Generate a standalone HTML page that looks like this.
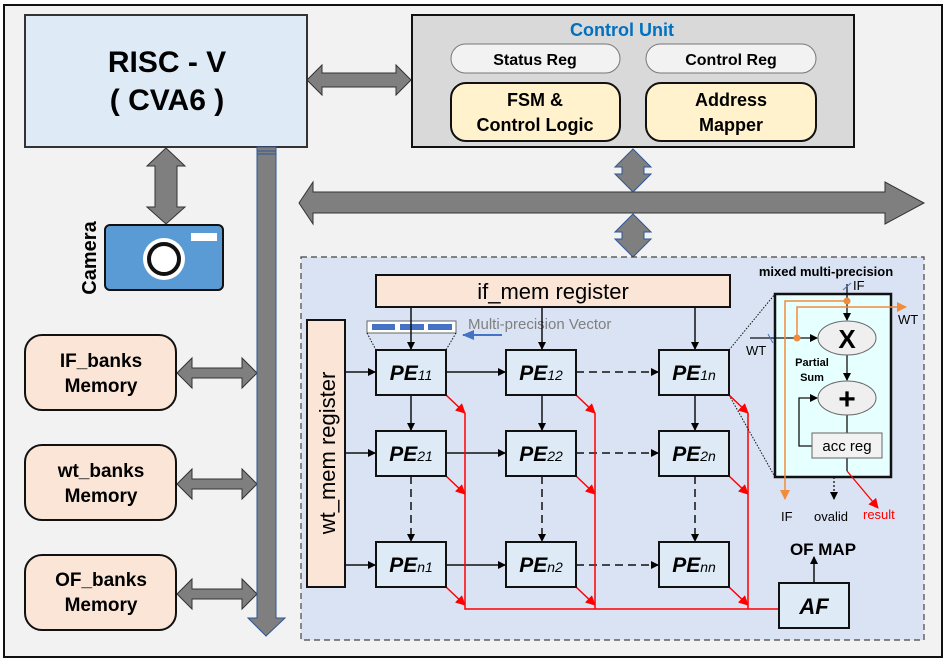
<!DOCTYPE html>
<html><head><meta charset="utf-8"><style>body{margin:0;background:#fff}svg{display:block;font-family:"Liberation Sans",Arial,sans-serif}</style></head><body>
<svg width="947" height="662" viewBox="0 0 947 662" xmlns="http://www.w3.org/2000/svg">
<defs>
<marker id="ab" markerWidth="8" markerHeight="8" refX="7" refY="4" orient="auto" markerUnits="userSpaceOnUse"><path d="M0,0 L8,4 L0,8 z" fill="#000"/></marker>
<marker id="ar" markerWidth="10" markerHeight="10" refX="9" refY="5" orient="auto" markerUnits="userSpaceOnUse"><path d="M0,0 L10,5 L0,10 z" fill="#f00"/></marker>
<marker id="ao" markerWidth="10" markerHeight="10" refX="9" refY="5" orient="auto" markerUnits="userSpaceOnUse"><path d="M0,0 L10,5 L0,10 z" fill="#f08c3c"/></marker>
<marker id="abl" markerWidth="12" markerHeight="10" refX="11" refY="5" orient="auto" markerUnits="userSpaceOnUse"><path d="M0,0 L12,5 L0,10 z" fill="#4472c4"/></marker>
</defs>
<rect x="4" y="5" width="938" height="652" fill="#f2f2f2" stroke="#111" stroke-width="2"/>
<rect x="25" y="15" width="282" height="132" fill="#deebf7" stroke="#333" stroke-width="2"/>
<text x="167" y="72" font-size="30" font-weight="bold" text-anchor="middle">RISC - V</text>
<text x="167" y="110" font-size="30" font-weight="bold" text-anchor="middle">( CVA6 )</text>
<rect x="412" y="15" width="442" height="132" fill="#d9d9d9" stroke="#111" stroke-width="2"/>
<text x="622" y="36" font-size="18" font-weight="bold" fill="#0070c0" text-anchor="middle">Control Unit</text>
<rect x="451" y="44" width="169" height="29" rx="14.5" fill="#f2f2f2" stroke="#777"/>
<text x="535" y="65" font-size="16" font-weight="bold" text-anchor="middle">Status Reg</text>
<rect x="646" y="44" width="170" height="29" rx="14.5" fill="#f2f2f2" stroke="#777"/>
<text x="731" y="65" font-size="16" font-weight="bold" text-anchor="middle">Control Reg</text>
<rect x="451" y="83" width="169" height="58" rx="15" fill="#fff2cc" stroke="#111" stroke-width="2"/>
<text x="535" y="106" font-size="18" font-weight="bold" text-anchor="middle">FSM &amp;</text>
<text x="535" y="131" font-size="18" font-weight="bold" text-anchor="middle">Control Logic</text>
<rect x="646" y="83" width="170" height="58" rx="15" fill="#fff2cc" stroke="#111" stroke-width="2"/>
<text x="731" y="106" font-size="18" font-weight="bold" text-anchor="middle">Address</text>
<text x="731" y="131" font-size="18" font-weight="bold" text-anchor="middle">Mapper</text>
<g fill="#7f7f7f" stroke="#333" stroke-width="1">
<path d="M307,80 L322,65 L322,73 L396,73 L396,65 L411,80 L396,95 L396,87 L322,87 L322,95 z"/>
<path d="M299,203 L313,182 L313,192 L885,192 L885,182 L924,203 L885,224 L885,213 L313,213 L313,224 z"/>
<path d="M166,148 L185,166 L177,166 L177,207 L185,207 L166,224 L147,207 L155,207 L155,166 L147,166 z"/>
<path d="M177,373 L192,358 L192,368 L242,368 L242,358 L257,373 L242,388 L242,378 L192,378 L192,388 z"/>
<path d="M177,484 L192,469 L192,479 L242,479 L242,469 L257,484 L242,499 L242,489 L192,489 L192,499 z"/>
<path d="M177,594 L192,579 L192,589 L242,589 L242,579 L257,594 L242,609 L242,599 L192,599 L192,609 z"/>
</g>
<g fill="#7f7f7f" stroke="#2f5597" stroke-width="1">
<path d="M633,149 L651,167 L644,167 L644,174 L651,174 L633,192 L615,174 L622,174 L622,167 L615,167 z"/>
<path d="M633,214 L651,232 L644,232 L644,239 L651,239 L633,257 L615,239 L622,239 L622,232 L615,232 z"/>
<path d="M257,147 L276,147 L276,618 L285,618 L266,636 L248,618 L257,618 z"/>
</g>
<line x1="257" y1="151" x2="276" y2="151" stroke="#2f5597"/><line x1="257" y1="154" x2="276" y2="154" stroke="#2f5597"/>
<rect x="105" y="225" width="118" height="65" rx="5" fill="#5b9bd5" stroke="#111" stroke-width="2"/>
<rect x="191" y="233" width="26" height="8" fill="#fff"/>
<circle cx="164" cy="259" r="21" fill="#fff"/>
<circle cx="164" cy="259" r="15" fill="#fff" stroke="#111" stroke-width="4"/>
<text transform="translate(96,258) rotate(-90)" font-size="20" font-weight="bold" text-anchor="middle">Camera</text>
<g fill="#fbe5d6" stroke="#111" stroke-width="2">
<rect x="25" y="335" width="151" height="75" rx="17"/>
<rect x="25" y="445" width="151" height="75" rx="17"/>
<rect x="25" y="555" width="151" height="75" rx="17"/>
</g>
<g font-size="19" font-weight="bold" text-anchor="middle">
<text x="101" y="367">IF_banks</text><text x="101" y="392">Memory</text>
<text x="101" y="477">wt_banks</text><text x="101" y="502">Memory</text>
<text x="101" y="586">OF_banks</text><text x="101" y="611">Memory</text>
</g>
<rect x="301" y="257" width="623" height="383" fill="#dae3f3" stroke="#444" stroke-width="1.2" stroke-dasharray="6,4"/>
<rect x="376" y="275" width="354" height="32" fill="#fbe5d6" stroke="#111" stroke-width="2"/>
<text x="553" y="299" font-size="22" text-anchor="middle">if_mem register</text>
<rect x="307" y="320" width="38" height="267" fill="#fbe5d6" stroke="#111" stroke-width="2"/>
<text transform="translate(335,453) rotate(-90)" font-size="22" text-anchor="middle">wt_mem register</text>
<rect x="367" y="321" width="89" height="12" fill="#fff" stroke="#666"/>
<rect x="372" y="324" width="23" height="6" fill="#4472c4"/><rect x="400" y="324" width="24" height="6" fill="#4472c4"/><rect x="428" y="324" width="24" height="6" fill="#4472c4"/>
<line x1="367" y1="333" x2="376" y2="350" stroke="#111" stroke-dasharray="1.5,1.5"/>
<line x1="456" y1="333" x2="446" y2="350" stroke="#111" stroke-dasharray="1.5,1.5"/>
<line x1="502" y1="335" x2="463" y2="335" stroke="#4472c4" stroke-width="2" marker-end="url(#abl)"/>
<text x="468" y="329" font-size="15" fill="#7f7f7f">Multi-precision Vector</text>
<g stroke="#111" stroke-width="1.5" fill="none" marker-end="url(#ab)">
<line x1="411" y1="307" x2="411" y2="349"/><line x1="542" y1="307" x2="542" y2="349"/><line x1="695" y1="307" x2="695" y2="349"/>
<line x1="345" y1="372" x2="375" y2="372"/><line x1="345" y1="453" x2="375" y2="453"/><line x1="345" y1="565" x2="375" y2="565"/>
<line x1="446" y1="372" x2="505" y2="372"/><line x1="446" y1="453" x2="505" y2="453"/><line x1="446" y1="565" x2="505" y2="565"/>
<line x1="411" y1="395" x2="411" y2="430"/><line x1="542" y1="395" x2="542" y2="430"/><line x1="695" y1="395" x2="695" y2="430"/>
</g>
<g stroke="#111" stroke-width="1.5" fill="none" stroke-dasharray="8,5" marker-end="url(#ab)">
<line x1="576" y1="372" x2="658" y2="372"/><line x1="576" y1="453" x2="658" y2="453"/><line x1="576" y1="565" x2="658" y2="565"/>
<line x1="411" y1="476" x2="411" y2="541"/><line x1="542" y1="476" x2="542" y2="541"/><line x1="695" y1="476" x2="695" y2="541"/>
</g>
<g stroke="#f00" stroke-width="1.5" fill="none">
<polyline points="465,413 465,609 779,609"/><line x1="595" y1="413" x2="595" y2="609"/><line x1="748" y1="413" x2="748" y2="609"/>
</g>
<g stroke="#f00" stroke-width="1.5" marker-end="url(#ar)">
<line x1="446" y1="395" x2="465" y2="413"/><line x1="446" y1="476" x2="465" y2="494"/><line x1="446" y1="587" x2="465" y2="605"/>
<line x1="576" y1="395" x2="595" y2="413"/><line x1="576" y1="476" x2="595" y2="494"/><line x1="576" y1="587" x2="595" y2="605"/>
<line x1="729" y1="395" x2="748" y2="413"/><line x1="729" y1="476" x2="748" y2="494"/><line x1="729" y1="587" x2="748" y2="605"/>
</g>
<g fill="#deebf7" stroke="#111" stroke-width="2">
<rect x="376" y="350" width="70" height="45"/><rect x="506" y="350" width="70" height="45"/><rect x="659" y="350" width="70" height="45"/>
<rect x="376" y="431" width="70" height="45"/><rect x="506" y="431" width="70" height="45"/><rect x="659" y="431" width="70" height="45"/>
<rect x="376" y="542" width="70" height="45"/><rect x="506" y="542" width="70" height="45"/><rect x="659" y="542" width="70" height="45"/>
</g>
<g font-size="21" font-weight="bold" font-style="italic" text-anchor="middle">
<text x="411" y="380">PE<tspan font-size="14" font-weight="normal">11</tspan></text>
<text x="541" y="380">PE<tspan font-size="14" font-weight="normal">12</tspan></text>
<text x="694" y="380">PE<tspan font-size="14" font-weight="normal">1n</tspan></text>
<text x="411" y="461">PE<tspan font-size="14" font-weight="normal">21</tspan></text>
<text x="541" y="461">PE<tspan font-size="14" font-weight="normal">22</tspan></text>
<text x="694" y="461">PE<tspan font-size="14" font-weight="normal">2n</tspan></text>
<text x="411" y="572">PE<tspan font-size="14" font-weight="normal">n1</tspan></text>
<text x="541" y="572">PE<tspan font-size="14" font-weight="normal">n2</tspan></text>
<text x="694" y="572">PE<tspan font-size="14" font-weight="normal">nn</tspan></text>
</g>
<rect x="779" y="583" width="70" height="45" fill="#deebf7" stroke="#111" stroke-width="2"/>
<text x="814" y="614" font-size="22" font-weight="bold" font-style="italic" text-anchor="middle">AF</text>
<line x1="814" y1="583" x2="814" y2="557" stroke="#111" stroke-width="1.5" marker-end="url(#ab)"/>
<text x="823" y="555" font-size="17" font-weight="bold" text-anchor="middle">OF MAP</text>
<line x1="729" y1="350" x2="775" y2="294" stroke="#111" stroke-dasharray="1.5,1.5"/>
<line x1="729" y1="395" x2="775" y2="477" stroke="#111" stroke-dasharray="1.5,1.5"/>
<rect x="775" y="294" width="116" height="183" fill="#e6ffff" stroke="#111" stroke-width="2.5"/>
<text x="826" y="276" font-size="13" font-weight="bold" text-anchor="middle">mixed multi-precision</text>
<g stroke="#111" stroke-width="1.3" fill="none">
<line x1="847" y1="284" x2="847" y2="320" marker-end="url(#ab)"/>
<line x1="750" y1="338" x2="817" y2="338" marker-end="url(#ab)"/>
<line x1="847" y1="355" x2="847" y2="380" marker-end="url(#ab)"/>
<line x1="847" y1="415" x2="847" y2="433"/>
<polyline points="812,446 799,446 799,398 817,398" marker-end="url(#ab)"/>
<line x1="847" y1="458" x2="847" y2="471"/>
<line x1="834" y1="477" x2="834" y2="499" stroke-dasharray="2,2" marker-end="url(#ab)"/>
</g>
<line x1="843" y1="290" x2="851" y2="283" stroke="#4472c4"/>
<line x1="768" y1="334" x2="773" y2="343" stroke="#4472c4"/>
<line x1="847" y1="471" x2="878" y2="508" stroke="#f00" stroke-width="1.3" marker-end="url(#ar)"/>
<g stroke-width="1.5" fill="none">
<polyline points="847,301 785,301 785,499" stroke="#f08c3c" marker-end="url(#ao)"/>
<polyline points="797,338 797,307 906,307" stroke="#f08c3c" marker-end="url(#ao)"/>
</g>
<circle cx="847" cy="301" r="3.5" fill="#f08c3c"/><circle cx="797" cy="338" r="3.5" fill="#f08c3c"/>
<ellipse cx="847" cy="338" rx="29" ry="17" fill="#efefef" stroke="#666"/>
<text x="847" y="348" font-size="26" font-weight="bold" text-anchor="middle">X</text>
<ellipse cx="847" cy="398" rx="29" ry="17" fill="#efefef" stroke="#666"/>
<text x="847" y="409" font-size="30" font-weight="bold" text-anchor="middle">+</text>
<rect x="812" y="433" width="70" height="25" fill="#f2f2f2" stroke="#666"/>
<text x="847" y="451" font-size="15" text-anchor="middle">acc reg</text>
<text x="812" y="366" font-size="11" font-weight="bold" text-anchor="middle">Partial</text>
<text x="812" y="381" font-size="11" font-weight="bold" text-anchor="middle">Sum</text>
<g font-size="13">
<text x="853" y="290">IF</text><text x="898" y="324">WT</text><text x="746" y="355">WT</text>
<text x="781" y="521">IF</text><text x="814" y="521">ovalid</text><text x="863" y="519" fill="#f00">result</text>
</g>
</svg>
</body></html>
